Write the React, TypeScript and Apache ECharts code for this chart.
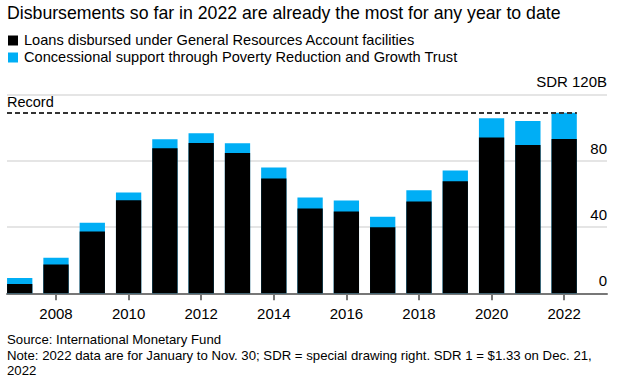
import React, { useEffect, useRef } from "react";
import * as echarts from "echarts";

const years = [2007, 2008, 2009, 2010, 2011, 2012, 2013, 2014, 2015, 2016, 2017, 2018, 2019, 2020, 2021, 2022];
const graLoans = [5.6, 17.3, 37.2, 56.1, 87.5, 90.7, 84.6, 69.3, 51.1, 49.3, 39.8, 55.3, 67.5, 93.9, 89.4, 93.1];
const prgtSupport = [3.7, 4.1, 5.4, 4.7, 5.4, 5.8, 5.9, 6.6, 6.7, 6.6, 6.4, 6.9, 6.6, 11.7, 14.5, 15.8];
const recordValue = 109;
const xTickYears = [2008, 2010, 2012, 2014, 2016, 2018, 2020, 2022];
const yTicks = [0, 40, 80, 120];

const title = "Disbursements so far in 2022 are already the most for any year to date";
const legendNames = [
  "Loans disbursed under General Resources Account facilities",
  "Concessional support through Poverty Reduction and Growth Trust",
];
const sourceText = "Source: International Monetary Fund";
const noteText = "Note: 2022 data are for January to Nov. 30; SDR = special drawing right. SDR 1 = $1.33 on Dec. 21,";
const noteText2 = "2022";

const BLACK = "#000000";
const BLUE = "#00aef5";
const FONT = "Liberation Sans";

export default function App() {
  const ref = useRef<HTMLDivElement>(null);
  useEffect(() => {
    document.body.style.margin = "0";
    if (!ref.current) return;
    const chart = echarts.init(ref.current, null, { renderer: "svg" });
    const W = 625;
    const gridLeft = 7;
    const gridRight = 18;
    const xMin = 2006.65;
    const xMax = 2023.18;
    const barEnd = 2022.35;
    const pxPerYear = (W - gridLeft - gridRight) / (xMax - xMin);
    // label grid: one category band per labelled tick (2 years wide), centred on the tick years
    const step = xTickYears[1] - xTickYears[0];
    const lblLeft = gridLeft + (xTickYears[0] - step / 2 - xMin) * pxPerYear;
    const lblRightEdge = gridLeft + (xTickYears[xTickYears.length - 1] + step / 2 - xMin) * pxPerYear;
    const totals = years.map((_, i) => graLoans[i] + prgtSupport[i]);
    chart.setOption({
      animation: false,
      textStyle: { fontFamily: FONT },
      grid: [
        { left: gridLeft, right: gridRight, top: 94.3, bottom: 91.7, containLabel: false },
        { left: lblLeft, right: W - lblRightEdge, top: 94.3, bottom: 91.7, containLabel: false },
      ],
      xAxis: [
        {
          type: "value",
          gridIndex: 0,
          min: xMin,
          max: xMax,
          axisLine: { show: true, lineStyle: { color: "#777", width: 2 } },
          axisTick: { show: true, customValues: xTickYears, length: 7, lineStyle: { color: "#777", width: 2 } },
          axisLabel: { show: false },
          splitLine: { show: false },
        },
        {
          type: "category",
          gridIndex: 1,
          data: xTickYears.map(String),
          boundaryGap: true,
          axisLine: { show: false },
          axisTick: { show: false },
          axisLabel: { color: "#000", fontSize: 15, margin: 13, fontFamily: FONT, interval: 0 },
          splitLine: { show: false },
        },
      ],
      yAxis: [
        {
          type: "value",
          gridIndex: 0,
          position: "right",
          min: 0,
          max: 120,
          interval: 40,
          axisLine: { show: false },
          axisTick: { show: false },
          splitLine: { show: true, lineStyle: { color: "#dddddd", width: 1.5 } },
          axisLabel: {
            inside: true,
            margin: 0,
            color: "#000",
            fontSize: 15,
            fontFamily: FONT,
            verticalAlign: "bottom",
            padding: [0, 0, 5, 0],
            formatter: (v: number) => (v === yTicks[yTicks.length - 1] ? "SDR " + v + "B" : String(v)),
          },
        },
        { type: "value", gridIndex: 1, show: false, min: 0, max: 120 },
      ],
      series: [
        {
          name: legendNames[1],
          type: "bar",
          xAxisIndex: 0,
          yAxisIndex: 0,
          barWidth: 25.3,
          barGap: "-100%",
          itemStyle: { color: BLUE },
          data: years.map((y, i) => [y, totals[i]]),
          markLine: {
            symbol: "none",
            silent: true,
            label: { show: false },
            lineStyle: { color: "#333", type: [5, 3], width: 2 },
            data: [[{ coord: [xMin, recordValue] }, { coord: [barEnd, recordValue] }]],
          },
        },
        {
          name: legendNames[0],
          type: "bar",
          xAxisIndex: 0,
          yAxisIndex: 0,
          barWidth: 25.3,
          barGap: "-100%",
          itemStyle: { color: BLACK },
          data: years.map((y, i) => [y, graLoans[i]]),
        },
      ],
      graphic: [
        { type: "text", left: 7, top: 4, style: { text: title, font: `17.7px ${FONT}`, fill: "#000" } },
        { type: "rect", left: 8, top: 35.5, shape: { width: 10, height: 10 }, style: { fill: BLACK } },
        { type: "text", left: 24, top: 32, style: { text: legendNames[0], font: `14.6px ${FONT}`, fill: "#000" } },
        { type: "rect", left: 8, top: 52.5, shape: { width: 10, height: 10 }, style: { fill: BLUE } },
        { type: "text", left: 24, top: 49, style: { text: legendNames[1], font: `14.6px ${FONT}`, fill: "#000" } },
        { type: "text", left: 7, top: 94, style: { text: "Record", font: `14.5px ${FONT}`, fill: "#000" } },
        { type: "text", left: 7, top: 333, style: { text: sourceText, font: `13.2px ${FONT}`, fill: "#000" } },
        { type: "text", left: 7, top: 349, style: { text: noteText, font: `13.2px ${FONT}`, fill: "#000" } },
        { type: "text", left: 7, top: 364, style: { text: noteText2, font: `13.2px ${FONT}`, fill: "#000" } },
      ],
    });
    return () => chart.dispose();
  }, []);
  return <div ref={ref} style={{ width: 625, height: 385 }} />;
}
